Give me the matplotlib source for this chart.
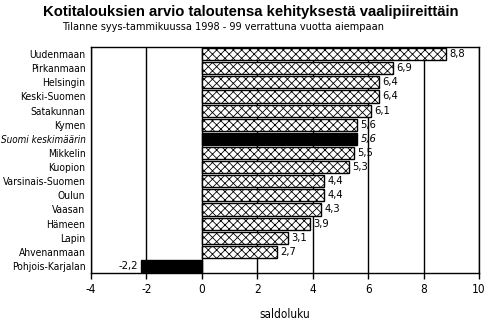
import matplotlib.pyplot as plt

names = ['Uudenmaan', 'Pirkanmaan', 'Helsingin', 'Keski-Suomen', 'Satakunnan',
         'Kymen', 'Suomi keskimäärin', 'Mikkelin', 'Kuopion', 'Varsinais-Suomen',
         'Oulun', 'Vaasan', 'Hämeen', 'Lapin', 'Ahvenanmaan', 'Pohjois-Karjalan']
values = [8.8, 6.9, 6.4, 6.4, 6.1, 5.6, 5.6, 5.5, 5.3, 4.4, 4.4, 4.3, 3.9, 3.1, 2.7, -2.2]
x_ticks = [-4, -2, 0, 2, 4, 6, 8, 10]

plt.rcParams['font.family'] = ['DejaVu Sans']
plt.rcParams['font.stretch'] = 'condensed'
plt.rcParams['hatch.linewidth'] = 0.6

fig = plt.figure(figsize=(4.92, 3.21), dpi=100)
ax = fig.add_axes([0.185, 0.1495, 0.7886, 0.704])

y = list(range(len(names)))
for i, (n, v) in enumerate(zip(names, values)):
    solid = n == 'Suomi keskimäärin' or v < 0
    ax.barh(i, v, height=0.86, color='black' if solid else 'white',
            edgecolor='black', hatch=None if solid else 'xxxx', linewidth=1.0, zorder=3)
    lab = f'{v:.1f}'.replace('.', ',')
    style = 'oblique' if n == 'Suomi keskimäärin' else 'normal'
    if v >= 0:
        ax.text(v + 0.12, i, lab, va='center', ha='left', fontsize=8, style=style, zorder=4)
    else:
        ax.text(v - 0.12, i, lab, va='center', ha='right', fontsize=8, zorder=4)

ax.set_xlim(-4, 10)
ax.set_ylim(len(names) - 0.5, -0.5)
ax.set_xticks(x_ticks)
ax.set_xticklabels([str(t) for t in x_ticks], fontsize=8.5)
ax.set_yticks(y)
ax.set_yticklabels(names, fontsize=7.4)
for lbl in ax.get_yticklabels():
    if lbl.get_text() == 'Suomi keskimäärin':
        lbl.set_style('oblique')
        lbl.set_fontsize(7.1)
ax.tick_params(axis='y', length=0, pad=4)
ax.tick_params(axis='x', length=4, width=1, direction='out', pad=3)
ax.xaxis.grid(True, color='black', linewidth=1, zorder=0)
ax.set_axisbelow(True)
for s in ax.spines.values():
    s.set_linewidth(1)
ax.set_xlabel('saldoluku', fontsize=8.5, labelpad=9)

fig.text(0.51, 0.962, 'Kotitalouksien arvio taloutensa kehityksestä vaalipiireittäin',
         ha='center', va='center', fontsize=10.7, fontweight='bold',
         family=['Liberation Sans', 'DejaVu Sans'], fontstretch='normal')
fig.text(0.454, 0.915, 'Tilanne syys-tammikuussa 1998 - 99 verrattuna vuotta aiempaan',
         ha='center', va='center', fontsize=7.8)

fig.savefig('out.png', dpi=100)
